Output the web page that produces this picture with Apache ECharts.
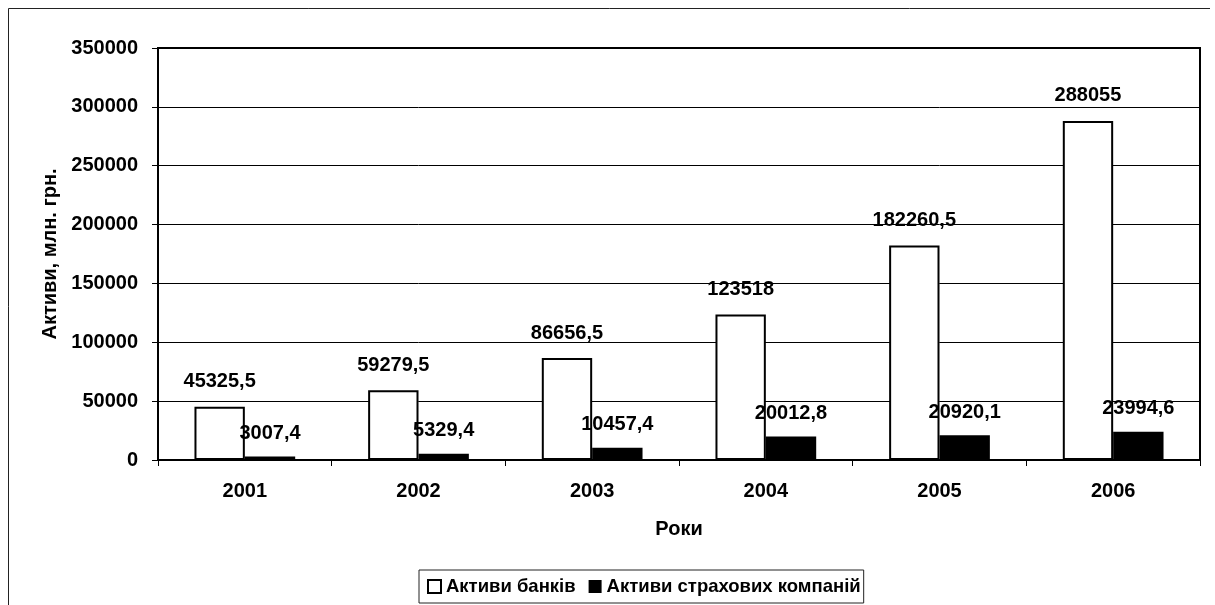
<!DOCTYPE html>
<html>
<head>
<meta charset="utf-8">
<script src="https://cdn.jsdelivr.net/npm/echarts@6/dist/echarts.min.js"></script>
<style>
  html, body { margin: 0; padding: 0; background: #fff; }
  #chart { width: 1215px; height: 605px; }
</style>
</head>
<body>
<div id="chart"></div>
<script>
const years = ['2001', '2002', '2003', '2004', '2005', '2006'];
const bankAssets = [45325.5, 59279.5, 86656.5, 123518, 182260.5, 288055];
const insuranceAssets = [3007.4, 5329.4, 10457.4, 20012.8, 20920.1, 23994.6];
const bankName = 'Активи банків';
const insuranceName = 'Активи страхових компаній';

const FONT = '"Liberation Sans", Arial, sans-serif';
const txt = { fontFamily: FONT, fontWeight: 'bold', fontSize: 20, color: '#000' };

// excel style decimal comma
const fmt = (p) => String(p.value).replace('.', ',');

const chart = echarts.init(document.getElementById('chart'));

chart.setOption({
  backgroundColor: '#fff',
  animation: false,
  textStyle: { fontFamily: FONT },
  graphic: [
    {
      type: 'polyline',
      shape: { points: [[8.5, 605], [8.5, 8.5], [1210, 8.5]] },
      style: { stroke: '#222', lineWidth: 1, fill: null },
      silent: true,
    },
  ],
  grid: {
    left: 158, top: 48, right: 15, bottom: 145,
    show: true, borderColor: '#000', borderWidth: 2, backgroundColor: '#fff',
  },
  legend: {
    data: [bankName, insuranceName],
    left: 419, bottom: 2,
    itemWidth: 13, itemHeight: 13, itemGap: 13,
    padding: [7, 3, 7, 8],
    borderColor: '#222', borderWidth: 1,
    textStyle: { ...txt, fontSize: 18.5 },
    icon: 'rect',
  },
  xAxis: {
    type: 'category',
    data: years,
    name: 'Роки',
    nameLocation: 'middle',
    nameGap: 59,
    nameTextStyle: txt,
    axisLine: { lineStyle: { color: '#000', width: 2 } },
    axisTick: { show: true, length: 6, lineStyle: { color: '#000', width: 1 } },
    axisLabel: { ...txt, margin: 21 },
    splitLine: { show: false },
  },
  yAxis: {
    type: 'value',
    min: 0, max: 350000, interval: 50000,
    name: 'Активи, млн. грн.',
    nameLocation: 'middle',
    nameGap: 95,
    nameTextStyle: txt,
    axisLine: { show: true, lineStyle: { color: '#000', width: 2 } },
    axisTick: { show: true, length: 6, lineStyle: { color: '#000', width: 1 } },
    axisLabel: { ...txt, margin: 20, formatter: (v) => String(v) },
    splitLine: { lineStyle: { color: '#000', width: 1 } },
  },
  series: [
    {
      name: bankName,
      type: 'bar',
      data: bankAssets,
      barGap: '0%',
      barCategoryGap: '42%',
      itemStyle: { color: '#fff', borderColor: '#000', borderWidth: 2 },
      label: { show: true, position: 'top', distance: 15, formatter: fmt, ...txt },
    },
    {
      name: insuranceName,
      type: 'bar',
      data: insuranceAssets,
      itemStyle: { color: '#000' },
      label: { show: true, position: 'top', distance: 13, formatter: fmt, ...txt },
    },
  ],
});
</script>
</body>
</html>
